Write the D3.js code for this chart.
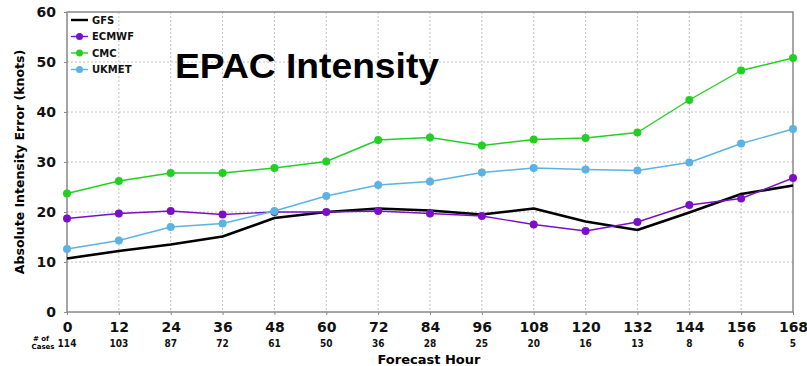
<!DOCTYPE html>
<html>
<head>
<meta charset="utf-8">
<script src="https://cdn.jsdelivr.net/npm/d3@7"></script>
<style>
  body { margin: 0; background: #fff; }
  svg { display: block; }
</style>
</head>
<body>
<svg id="chart"></svg>
<script>
const hours = [0, 12, 24, 36, 48, 60, 72, 84, 96, 108, 120, 132, 144, 156, 168];
const cases = [114, 103, 87, 72, 61, 50, 36, 28, 25, 20, 16, 13, 8, 6, 5];
const gfs   = [10.7, 12.2, 13.5, 15.1, 18.8, 20.0, 20.7, 20.3, 19.5, 20.7, 18.1, 16.4, 19.9, 23.6, 25.3];
const ecmwf = [18.7, 19.7, 20.2, 19.5, 20.0, 20.0, 20.2, 19.7, 19.2, 17.5, 16.2, 18.0, 21.4, 22.7, 26.8];
const cmc   = [23.7, 26.2, 27.8, 27.8, 28.8, 30.1, 34.4, 34.9, 33.3, 34.5, 34.8, 35.9, 42.4, 48.3, 50.8];
const ukmet = [12.6, 14.3, 17.0, 17.7, 20.2, 23.2, 25.4, 26.1, 27.9, 28.8, 28.5, 28.3, 29.9, 33.7, 36.6];
const yTicks = [0, 10, 20, 30, 40, 50, 60];

const series = [
    { name: "GFS", values: gfs, color: "#000000", width: 2.6, marker: false },
    { name: "ECMWF", values: ecmwf, color: "#7a0fc9", width: 1.4, marker: true },
    { name: "CMC", values: cmc, color: "#22d022", width: 1.4, marker: true },
    { name: "UKMET", values: ukmet, color: "#5ab3e3", width: 1.4, marker: true },
];

const width = 807, height = 366;
const margin = { top: 12, right: 14, bottom: 54, left: 67 };
const w = width - margin.left - margin.right;
const h = height - margin.top - margin.bottom;

const svg = d3.select("#chart").attr("width", width).attr("height", height);
const g = svg.append("g").attr("transform", `translate(${margin.left},${margin.top})`);

const x = d3.scaleLinear().domain([0, 168]).range([0, w]);
const y = d3.scaleLinear().domain([0, 60]).range([h, 0]);

// grid
g.append("g").selectAll("line").data(hours.slice(1, -1)).enter().append("line")
    .attr("x1", d => x(d)).attr("x2", d => x(d)).attr("y1", 0).attr("y2", h)
    .attr("stroke", "#b0b0b0").attr("stroke-width", 0.8).attr("stroke-dasharray", "2,2");
g.append("g").selectAll("line").data(yTicks.slice(1, -1)).enter().append("line")
    .attr("x1", 0).attr("x2", w).attr("y1", d => y(d)).attr("y2", d => y(d))
    .attr("stroke", "#b0b0b0").attr("stroke-width", 0.8).attr("stroke-dasharray", "2,2");

// frame
g.append("rect").attr("width", w).attr("height", h)
    .attr("fill", "none").attr("stroke", "#888").attr("stroke-width", 1.5);

// axes
const xAxis = g.append("g").attr("transform", `translate(0,${h})`)
    .call(d3.axisBottom(x).tickValues(hours).tickSize(3).tickPadding(7));
const yAxis = g.append("g")
    .call(d3.axisLeft(y).tickValues(yTicks).tickSize(3).tickPadding(8));
[xAxis, yAxis].forEach(a => {
    a.select(".domain").remove();
    a.selectAll(".tick line").attr("stroke", "#888");
    a.selectAll("text")
        .style("font-family", "DejaVu Sans").style("font-weight", "bold")
        .style("font-size", "14px").attr("fill", "#111");
});

// number of cases row
g.append("g").selectAll("text").data(cases).enter().append("text")
    .attr("x", (d, i) => x(hours[i]))
    .attr("y", h + 35)
    .attr("text-anchor", "middle")
    .style("font-family", "DejaVu Sans Condensed").style("font-weight", "bold")
    .style("font-size", "10px").attr("fill", "#111")
    .text(d => d);

svg.append("text").attr("x", 41).attr("y", 341).attr("text-anchor", "middle")
    .style("font-family", "DejaVu Sans").style("font-weight", "bold").style("font-size", "7px")
    .text("# of");
svg.append("text").attr("x", 43).attr("y", 349).attr("text-anchor", "middle")
    .style("font-family", "DejaVu Sans").style("font-weight", "bold").style("font-size", "7px")
    .text("Cases");

// axis titles
svg.append("text").attr("x", 429).attr("y", 364).attr("text-anchor", "middle")
    .style("font-family", "DejaVu Sans").style("font-weight", "bold").style("font-size", "13px")
    .text("Forecast Hour");
svg.append("text")
    .attr("transform", `translate(24,${margin.top + h / 2}) rotate(-90)`)
    .attr("text-anchor", "middle")
    .style("font-family", "DejaVu Sans").style("font-weight", "bold").style("font-size", "12.5px")
    .text("Absolute Intensity Error (knots)");

// lines
const line = d3.line().x((d, i) => x(hours[i])).y(d => y(d));
series.forEach(s => {
    g.append("path").datum(s.values)
        .attr("d", line).attr("fill", "none")
        .attr("stroke", s.color).attr("stroke-width", s.width)
        .attr("stroke-linejoin", "round");
    if (s.marker) {
        g.append("g").selectAll("circle").data(s.values).enter().append("circle")
            .attr("cx", (d, i) => x(hours[i])).attr("cy", d => y(d))
            .attr("r", 4).attr("fill", s.color);
    }
});

// title
svg.append("text").attr("x", 175).attr("y", 78)
    .attr("textLength", 264).attr("lengthAdjust", "spacingAndGlyphs")
    .style("font-family", "Liberation Sans").style("font-weight", "bold").style("font-size", "35px")
    .text("EPAC Intensity");

// legend
const legend = g.append("g").attr("transform", "translate(4,8)");
const items = legend.selectAll("g").data(series).enter().append("g")
    .attr("transform", (d, i) => `translate(0,${i * 16.5})`);
items.append("line").attr("x1", 0).attr("x2", 17).attr("y1", 0).attr("y2", 0)
    .attr("stroke", d => d.color).attr("stroke-width", d => d.marker ? 1.4 : 2.4);
items.filter(d => d.marker).append("circle").attr("cx", 8.5).attr("cy", 0).attr("r", 3.5)
    .attr("fill", d => d.color);
items.append("text").attr("x", 21).attr("y", 3.5)
    .style("font-family", "DejaVu Sans").style("font-weight", "bold").style("font-size", "10px")
    .attr("fill", "#111")
    .text(d => d.name);
</script>
</body>
</html>
